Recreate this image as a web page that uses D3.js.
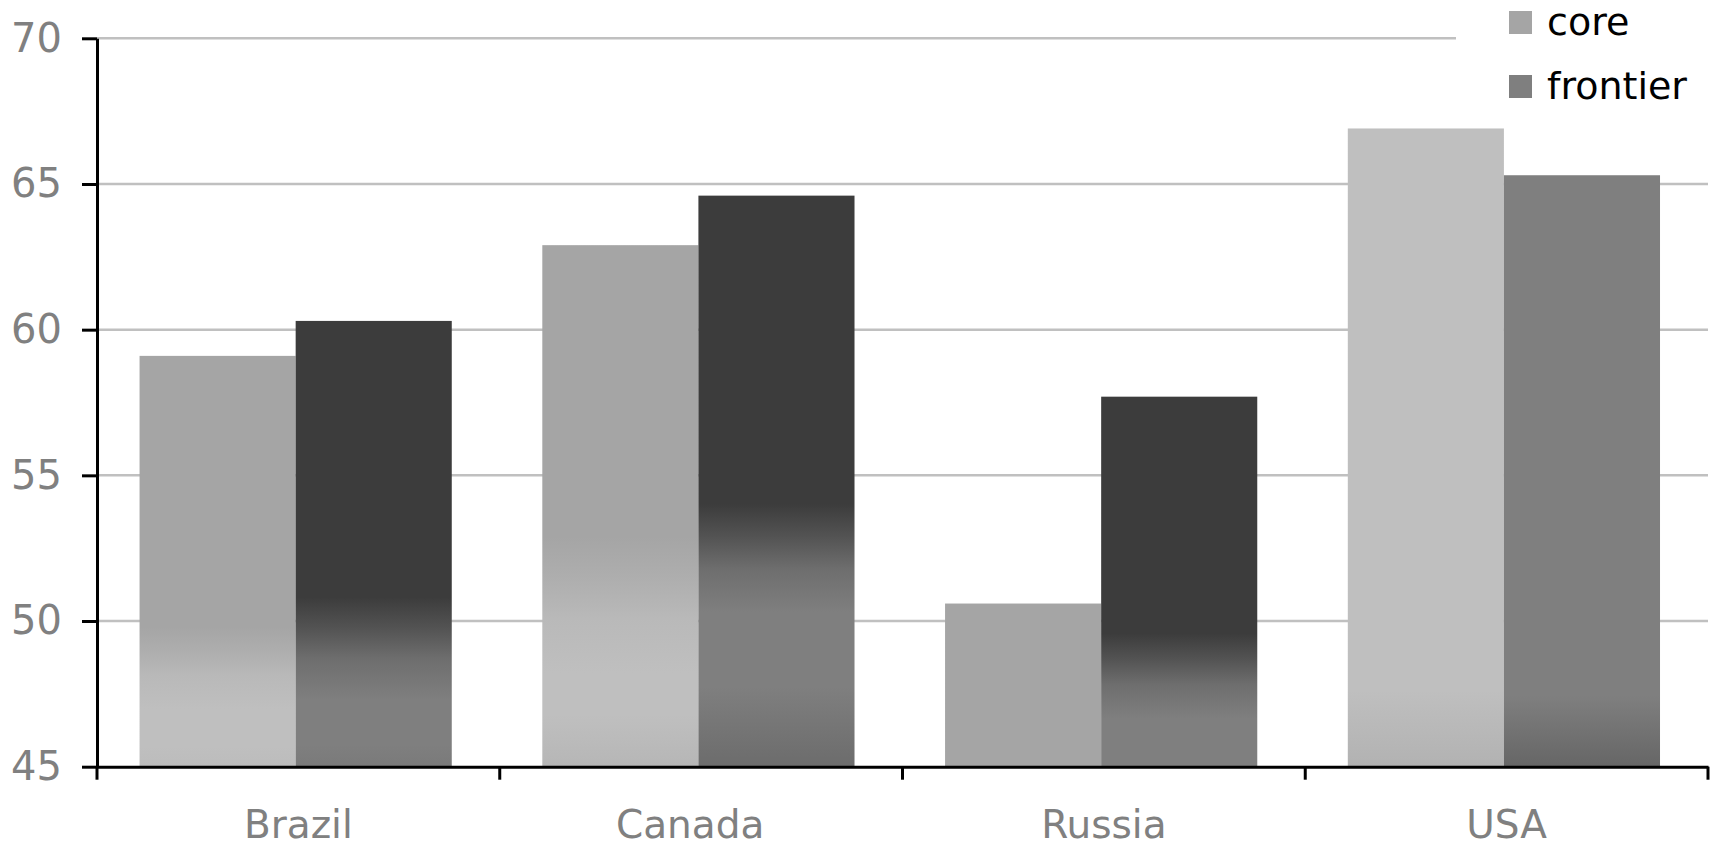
<!DOCTYPE html>
<html>
<head>
<meta charset="utf-8">
<script src="https://cdn.jsdelivr.net/npm/d3@7"></script>
<style>
  html, body { margin: 0; padding: 0; background: #fff; }
  svg { display: block; font-family: "DejaVu Sans", Verdana, sans-serif; }
</style>
</head>
<body>
<svg id="chart" width="1715" height="848"></svg>
<script>
// Categories and series
const categories = ["Brazil", "Canada", "Russia", "USA"];
const seriesNames = ["core", "frontier"];
const coreValues = [59.1, 62.9, 50.6, 66.9];
const frontierValues = [60.3, 64.6, 57.7, 65.3];
const yTickValues = [45, 50, 55, 60, 65, 70];

// Vertical shading of each bar: dark top, fading to a lighter body,
// then a slight darkening near the base (offsets are fractions of bar height).
const shading = {
  core: {
    top: "#a5a5a5", body: "#bfbfbf",
    Brazil: { fadeFrom: 0.66, fadeTo: 0.86, baseFrom: 0.95, base: "#bcbcbc" },
    Canada: { fadeFrom: 0.56, fadeTo: 0.82, baseFrom: 0.9, base: "#b6b6b6" },
    Russia: { fadeFrom: 1.0, fadeTo: 1.0, baseFrom: 1.0, base: "#a5a5a5" },
    USA:    { fadeFrom: 0.0, fadeTo: 0.0, baseFrom: 0.88, base: "#b2b2b2" }
  },
  frontier: {
    top: "#3c3c3c", body: "#7f7f7f",
    Brazil: { fadeFrom: 0.62, fadeTo: 0.85, baseFrom: 0.95, base: "#7a7a7a" },
    Canada: { fadeFrom: 0.54, fadeTo: 0.73, baseFrom: 0.86, base: "#6c6c6c" },
    Russia: { fadeFrom: 0.64, fadeTo: 0.87, baseFrom: 1.0, base: "#7f7f7f" },
    USA:    { fadeFrom: 0.0, fadeTo: 0.0, baseFrom: 0.88, base: "#666666" }
  }
};
const legendColors = { core: "#a5a5a5", frontier: "#7f7f7f" };
// Horizontal nudge of category labels (px)
const labelNudge = { Brazil: 0, Canada: -11, Russia: 0, USA: 0 };

const svg = d3.select("#chart");
const plot = { left: 97, right: 1708, top: 38.3, bottom: 766.7 };

const x = d3.scaleBand().domain(categories).range([plot.left, plot.right]).padding(0);
const x1 = d3.scaleBand().domain(seriesNames).range([0, x.bandwidth()])
  .paddingInner(0).paddingOuter(0.29).align(0.47);
const y = d3.scaleLinear().domain([45, 70]).range([plot.bottom, plot.top]);

const rows = categories.map((c, i) => ({
  category: c,
  values: [
    { series: "core", value: coreValues[i] },
    { series: "frontier", value: frontierValues[i] }
  ]
}));

// Gradients
const defs = svg.append("defs");
rows.forEach(r => {
  r.values.forEach(v => {
    const s = shading[v.series];
    const g = s[r.category];
    const grad = defs.append("linearGradient")
      .attr("id", `grad-${r.category}-${v.series}`)
      .attr("x1", 0).attr("y1", 0).attr("x2", 0).attr("y2", 1);
    const mid = d3.interpolateRgb(s.top, s.body);
    const span = g.fadeTo - g.fadeFrom;
    const stops = [
      [0, s.top],
      [g.fadeFrom, s.top],
      [g.fadeFrom + span * 0.3, mid(0.35)],
      [g.fadeFrom + span * 0.6, mid(0.75)],
      [g.fadeTo, s.body],
      [g.baseFrom, s.body],
      [1, g.base]
    ];
    stops.forEach(([o, c]) => grad.append("stop").attr("offset", o).attr("stop-color", c));
  });
});

// Grid lines
svg.append("g").selectAll("line")
  .data(yTickValues.filter(t => t !== 45))
  .join("line")
  .attr("x1", plot.left)
  .attr("x2", plot.right)
  .attr("y1", d => y(d))
  .attr("y2", d => y(d))
  .attr("stroke", "#c0c0c0")
  .attr("stroke-width", 2.5);

// Bars
svg.append("g").selectAll("g")
  .data(rows)
  .join("g")
  .attr("transform", d => `translate(${x(d.category)},0)`)
  .each(function(r) {
    d3.select(this).selectAll("rect")
      .data(r.values)
      .join("rect")
      .attr("x", d => x1(d.series))
      .attr("width", x1.bandwidth())
      .attr("y", d => y(d.value))
      .attr("height", d => y(45) - y(d.value))
      .attr("fill", d => `url(#grad-${r.category}-${d.series})`);
  });

// Y axis
const yAxis = svg.append("g")
  .attr("transform", `translate(${plot.left},0)`)
  .call(d3.axisLeft(y).tickValues(yTickValues).tickSize(15).tickSizeOuter(0).tickPadding(20));
yAxis.select(".domain").attr("stroke", "#000").attr("stroke-width", 3);
yAxis.selectAll(".tick line").attr("stroke", "#000").attr("stroke-width", 3);
yAxis.selectAll(".tick text")
  .attr("fill", "#808080")
  .style("font-size", "40px")
  .style("font-family", "DejaVu Sans, Verdana, sans-serif");

// X axis
const xAxis = svg.append("g")
  .attr("transform", `translate(0,${plot.bottom})`)
  .call(d3.axisBottom(x).tickSize(0).tickSizeOuter(0).tickPadding(44));
xAxis.select(".domain").attr("stroke", "#000").attr("stroke-width", 3);
xAxis.selectAll(".tick text")
  .attr("fill", "#808080")
  .attr("dx", d => labelNudge[d])
  .style("font-size", "39px")
  .style("font-family", "DejaVu Sans, Verdana, sans-serif");

// Category boundary ticks
const bounds = categories.map(c => x(c)).concat([x.range()[1]]);
xAxis.append("g").selectAll("line")
  .data(bounds)
  .join("line")
  .attr("x1", d => d).attr("x2", d => d)
  .attr("y1", 0).attr("y2", 13)
  .attr("stroke", "#000")
  .attr("stroke-width", 3);

// Legend
const legend = svg.append("g").attr("transform", "translate(1456,0)");
legend.append("rect")
  .attr("x", 0).attr("y", 0).attr("width", 259).attr("height", 112)
  .attr("fill", "#fff");
const item = legend.selectAll("g.item")
  .data(seriesNames)
  .join("g")
  .attr("class", "item")
  .attr("transform", (d, i) => `translate(53,${11 + i * 64})`);
item.append("rect")
  .attr("width", 23).attr("height", 23)
  .attr("fill", d => legendColors[d]);
item.append("text")
  .attr("x", 38).attr("y", 24)
  .attr("fill", "#000")
  .style("font-size", "38px")
  .text(d => d);
</script>
</body>
</html>
